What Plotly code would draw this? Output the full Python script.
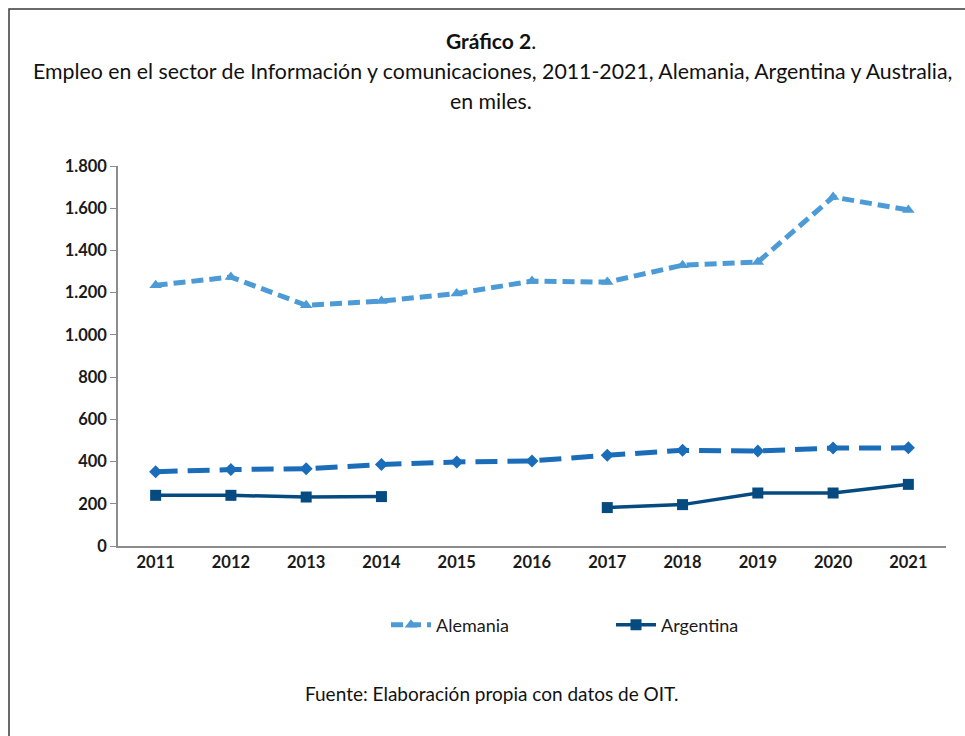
import plotly.graph_objects as go

years = ["2011", "2012", "2013", "2014", "2015", "2016", "2017", "2018", "2019", "2020", "2021"]
alemania = [1235, 1274, 1140, 1160, 1196, 1255, 1250, 1330, 1345, 1653, 1592]
australia = [352, 362, 366, 386, 398, 403, 430, 453, 450, 464, 465]
argentina = [240, 240, 232, 234, None, None, 182, 196, 251, 251, 292]

FONT = "Lato"
fig = go.Figure()
fig.add_trace(go.Scatter(
    x=years, y=alemania, name="Alemania", mode="lines+markers",
    line=dict(color="#4d9bd6", width=5, dash="12px,6px"),
    marker=dict(symbol="triangle-up", size=11, color="#4d9bd6"),
))
fig.add_trace(go.Scatter(
    x=years, y=argentina, name="Argentina", mode="lines+markers",
    line=dict(color="#064b80", width=3.5), connectgaps=False,
    marker=dict(symbol="square", size=11, color="#064b80"),
))
fig.add_trace(go.Scatter(
    x=years, y=australia, name="Australia", mode="lines+markers", showlegend=False,
    line=dict(color="#1b6dba", width=5, dash="22px,10px"),
    marker=dict(symbol="diamond", size=10, color="#1b6dba"),
))

L, R, T, B = 118, 19, 166, 190
W, H = 965, 736
pw, ph = W - L - R, H - T - B

def px(x):
    return (x - L) / pw

def py(y):
    return (H - B - y) / ph

tickfont = dict(size=16.5, family=FONT, color="#1a1a1a", weight="bold")
fig.update_layout(
    width=W, height=H, margin=dict(l=L, r=R, t=T, b=B),
    paper_bgcolor="white", plot_bgcolor="white",
    separators=",.",
    font=dict(family=FONT, color="#1a1a1a"),
    xaxis=dict(type="category", range=[-0.5, 10.5], showgrid=False, showline=True,
               linecolor="#8c8c8c", linewidth=1.5, ticks="", tickfont=tickfont,
               zeroline=False, fixedrange=True),
    yaxis=dict(range=[0, 1800], tickvals=[0, 200, 400, 600, 800, 1000, 1200, 1400, 1600, 1800],
               tickformat=",d", showgrid=False, showline=True, linecolor="#8c8c8c", linewidth=1.5,
               ticks="outside", ticklen=6, tickcolor="#8c8c8c",
               tickfont=tickfont, zeroline=False),
    legend=dict(orientation="h", x=px(386), y=py(625), xanchor="left", yanchor="middle",
                font=dict(size=18, family=FONT, color="#1a1a1a"), itemwidth=40,
                entrywidth=170, entrywidthmode="pixels",
                bgcolor="rgba(0,0,0,0)", tracegroupgap=0),
    shapes=[dict(type="rect", xref="paper", yref="paper",
                 x0=px(9), x1=px(980), y0=py(760), y1=py(9),
                 line=dict(color="#3a3a3a", width=1.5), fillcolor="rgba(0,0,0,0)", layer="below")],
    annotations=[
        dict(text="<b>Gráfico 2</b>.", x=px(491), y=py(40), xref="paper", yref="paper",
             showarrow=False, font=dict(size=21, family=FONT, color="#111111"), xanchor="center", yanchor="middle"),
        dict(text="Empleo en el sector de Información y comunicaciones, 2011-2021, Alemania, Argentina y Australia,",
             x=px(492), y=py(71), xref="paper", yref="paper", showarrow=False,
             font=dict(size=21.3, family=FONT, color="#111111"), xanchor="center", yanchor="middle"),
        dict(text="en miles.", x=px(491), y=py(101), xref="paper", yref="paper", showarrow=False,
             font=dict(size=21.3, family=FONT, color="#111111"), xanchor="center", yanchor="middle"),
        dict(text="Fuente: Elaboración propia con datos de OIT.", x=px(491), y=py(693), xref="paper", yref="paper",
             showarrow=False, font=dict(size=19, family=FONT, color="#111111"), xanchor="center", yanchor="middle"),
    ],
)

fig.write_html("out.html")
